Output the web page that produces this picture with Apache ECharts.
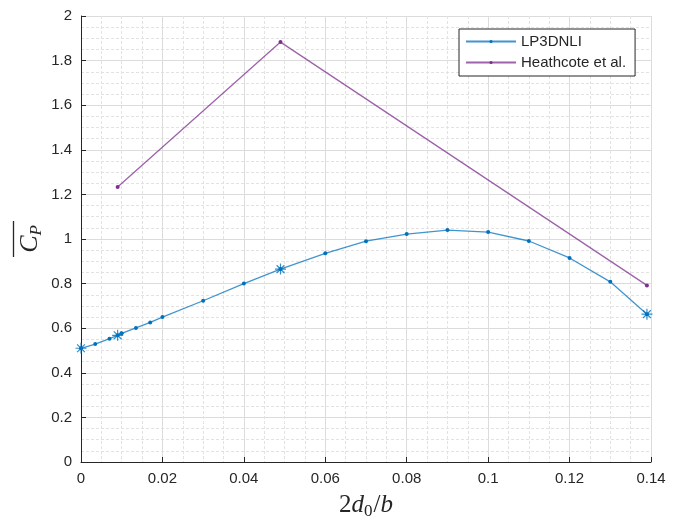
<!DOCTYPE html>
<html><head><meta charset="utf-8">
<script src="https://cdn.jsdelivr.net/npm/echarts@6/dist/echarts.min.js"></script>
<style>html,body{margin:0;padding:0;background:#fff}#c{width:686px;height:523px}</style>
</head><body><div id="c"></div>
<script>
const lpX = [0, 0.0035, 0.007, 0.009, 0.010, 0.0135, 0.017, 0.020, 0.030, 0.040, 0.049, 0.060, 0.070, 0.080, 0.090, 0.100, 0.110, 0.120, 0.130, 0.139];
const lpY = [0.510, 0.529, 0.553, 0.568, 0.577, 0.601, 0.626, 0.650, 0.723, 0.800, 0.865, 0.936, 0.990, 1.022, 1.040, 1.031, 0.991, 0.915, 0.808, 0.663];
const starX = [0, 0.009, 0.049, 0.139];
const starY = [0.510, 0.568, 0.865, 0.663];
const heX = [0.009, 0.049, 0.139];
const heY = [1.233, 1.883, 0.792];
const seriesNames = ['LP3DNLI', 'Heathcote et al.'];

const blue = '#0072BD', purple = '#7E2F8E', ink = '#262626';
const zip = (a, b) => a.map((v, i) => [v, b[i]]);
const asterisk = 'path://M0,-10L0,10M-10,0L10,0M-7.07,-7.07L7.07,7.07M-7.07,7.07L7.07,-7.07';

const chart = echarts.init(document.getElementById('c'));
chart.setOption({
  animation: false,
  grid: {left: 81, right: 35, top: 16, bottom: 61, containLabel: false, outerBoundsMode: 'none'},
  legend: {
    data: seriesNames, orient: 'vertical', left: 459, top: 29,
    itemWidth: 50, itemHeight: 4, itemGap: 6,
    padding: [5, 9, 6, 6],
    backgroundColor: '#fff', borderColor: ink, borderWidth: 1,
    textStyle: {fontFamily: 'Liberation Sans', fontSize: 15, color: ink}
  },
  xAxis: {
    type: 'value', min: 0, max: 0.14, interval: 0.02,
    name: '{n|2}{i|d}{s|0}{n|/}{i|b}', nameLocation: 'middle', nameGap: 29,
    nameTextStyle: {rich: {
      n: {fontFamily: 'Liberation Serif', fontSize: 25, color: ink},
      i: {fontFamily: 'Liberation Serif', fontStyle: 'italic', fontSize: 25, color: ink},
      s: {fontFamily: 'Liberation Serif', fontSize: 17, color: ink, verticalAlign: 'bottom', padding: [12, 1, 0, 0]}
    }},
    axisLine: {lineStyle: {color: ink, width: 1}},
    axisTick: {inside: true, length: 5, lineStyle: {color: ink}},
    axisLabel: {fontFamily: 'Liberation Sans', fontSize: 15, color: ink, margin: 9},
    splitLine: {lineStyle: {color: '#dcdcdc', width: 1}},
    minorTick: {show: false, splitNumber: 4},
    minorSplitLine: {show: true, lineStyle: {color: '#e2e2e2', type: [3, 2], width: 1}}
  },
  yAxis: {
    type: 'value', min: 0, max: 2, interval: 0.2,
    name: '{c|C}{p|P}', nameLocation: 'middle', nameGap: 36, nameRotate: 90, nameMoveOverlap: false,
    nameTextStyle: {rich: {
      c: {fontFamily: 'Liberation Serif', fontStyle: 'italic', fontSize: 26, color: ink},
      p: {fontFamily: 'Liberation Serif', fontStyle: 'italic', fontSize: 17, color: ink, verticalAlign: 'bottom', padding: [13, 0, 0, 0]}
    }},
    axisLine: {show: true, lineStyle: {color: ink, width: 1}},
    axisTick: {show: true, inside: true, length: 5, lineStyle: {color: ink}},
    axisLabel: {fontFamily: 'Liberation Sans', fontSize: 15, color: ink, margin: 9},
    splitLine: {lineStyle: {color: '#dcdcdc', width: 1}},
    minorTick: {show: false, splitNumber: 4},
    minorSplitLine: {show: true, lineStyle: {color: '#e2e2e2', type: [3, 2], width: 1}}
  },
  graphic: [{
    type: 'line', shape: {x1: 13.5, y1: 221, x2: 13.5, y2: 257},
    style: {stroke: ink, lineWidth: 1.3}, silent: true
  }],
  series: [
    {name: seriesNames[0], type: 'line', data: zip(lpX, lpY), color: blue,
     symbol: 'circle', symbolSize: 4, showAllSymbol: true,
     lineStyle: {color: blue, width: 1.3, opacity: 0.75}, itemStyle: {color: blue}, z: 3},
    {name: 'stars', type: 'scatter', data: zip(starX, starY), symbol: asterisk, symbolSize: 11,
     itemStyle: {color: 'rgba(0,0,0,0)', borderColor: blue, borderWidth: 1.2}, z: 4},
    {name: seriesNames[1], type: 'line', data: zip(heX, heY), color: purple,
     symbol: 'circle', symbolSize: 4,
     lineStyle: {color: purple, width: 1.3, opacity: 0.75}, itemStyle: {color: purple}, z: 3}
  ]
});
</script></body></html>
